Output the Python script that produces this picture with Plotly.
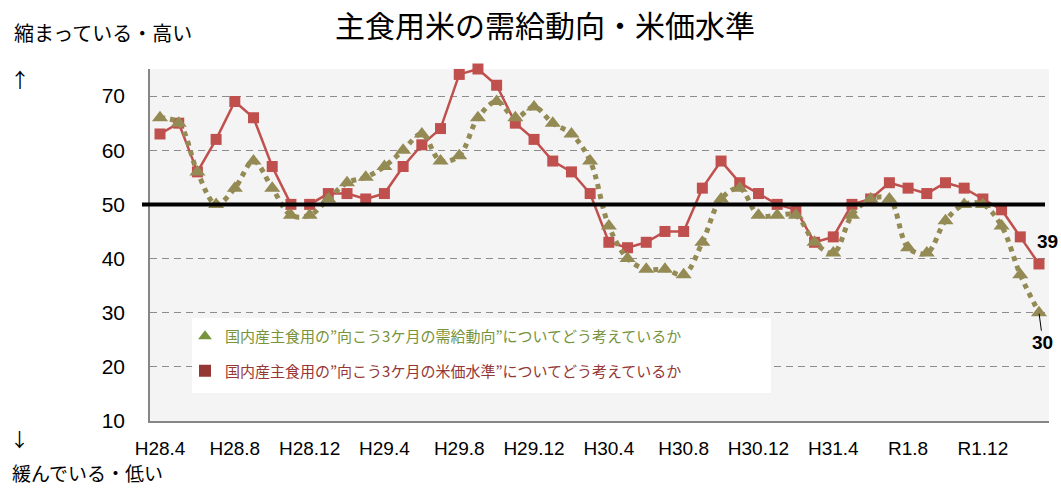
import plotly.graph_objects as go

months = [
    "H28.4", "H28.5", "H28.6", "H28.7", "H28.8", "H28.9", "H28.10", "H28.11", "H28.12",
    "H29.1", "H29.2", "H29.3", "H29.4", "H29.5", "H29.6", "H29.7", "H29.8", "H29.9",
    "H29.10", "H29.11", "H29.12", "H30.1", "H30.2", "H30.3", "H30.4", "H30.5", "H30.6",
    "H30.7", "H30.8", "H30.9", "H30.10", "H30.11", "H30.12", "H31.1", "H31.2", "H31.3",
    "H31.4", "R1.5", "R1.6", "R1.7", "R1.8", "R1.9", "R1.10", "R1.11", "R1.12",
    "R2.1", "R2.2", "R2.3",
]
tick_labels = ["H28.4", "H28.8", "H28.12", "H29.4", "H29.8", "H29.12",
               "H30.4", "H30.8", "H30.12", "H31.4", "R1.8", "R1.12"]

# 需給動向 (triangles)
supply_demand = [66, 65, 56, 50, 53, 58, 53, 48, 48, 51,
                 54, 55, 57, 60, 63, 58, 59, 66, 69, 66,
                 68, 65, 63, 58, 46, 40, 38, 38, 37, 43,
                 51, 53, 48, 48, 48, 43, 41, 48, 51, 51,
                 42, 41, 47, 50, 50, 46, 37, 30]
# 米価水準 (squares)
price_level = [63, 65, 56, 62, 69, 66, 57, 50, 50, 52,
               52, 51, 52, 57, 61, 64, 74, 75, 72, 65,
               62, 58, 56, 52, 43, 42, 43, 45, 45, 53,
               58, 54, 52, 50, 49, 43, 44, 50, 51, 54,
               53, 52, 54, 53, 51, 49, 44, 39]

name_sd = "国内産主食用の”向こう3ケ月の需給動向”についてどう考えているか"
name_pr = "国内産主食用の”向こう3ケ月の米価水準”についてどう考えているか"

title_text = "主食用米の需給動向・米価水準"
top_text = "縮まっている・高い"
bottom_text = "緩んでいる・低い"

JP = "Noto Sans CJK JP"
LAT = "Liberation Sans, Arial, Noto Sans CJK JP"

OLIVE = "#948A54"
RED = "#C0504D"

fig = go.Figure()

fig.add_trace(go.Scatter(
    x=months, y=price_level, mode="lines+markers",
    line=dict(color=RED, width=2.5),
    marker=dict(symbol="square", size=11, color=RED),
    showlegend=False, cliponaxis=False,
))
fig.add_trace(go.Scatter(
    x=months, y=supply_demand, mode="lines+markers",
    line=dict(color=OLIVE, width=5, dash="dot", shape="spline", smoothing=1),
    marker=dict(symbol="triangle-up", size=14, color=OLIVE),
    showlegend=False, cliponaxis=False,
))

# legend entries
fig.add_trace(go.Scatter(
    x=[None], y=[None], mode="markers",
    marker=dict(symbol="triangle-up", size=12, color="#77933C"),
    name=f"<span style='color:#77933C'>{name_sd}</span>",
    legendgroup="a",
))
fig.add_trace(go.Scatter(
    x=[None], y=[None], mode="markers",
    marker=dict(symbol="square", size=10, color="#953735"),
    name=f"<span style='color:#953735'>{name_pr}</span>",
    legendgroup="b",
))

L, R, T, B = 150, 12, 69, 68
W, H = 1061, 489
PW, PH = W - L - R, H - T - B


def px(xp):
    return (xp - L) / PW


def py(yp):
    return (H - B - yp) / PH


fig.update_layout(
    width=W, height=H,
    margin=dict(l=L, r=R, t=T, b=B),
    paper_bgcolor="white",
    plot_bgcolor="#F4F4F4",
    font=dict(family=LAT, color="#000000"),
    title=dict(text=title_text, x=545 / W, xanchor="center",
               y=1 - 26 / H, yanchor="middle",
               font=dict(family=JP, size=30, color="#000000")),
    legend=dict(x=px(185), xanchor="left", y=py(320), yanchor="top",
                bgcolor="rgba(0,0,0,0)", font=dict(family=JP, size=15),
                traceorder="grouped", tracegroupgap=12, itemsizing="constant"),
    xaxis=dict(
        type="category", range=[-0.535, len(months) - 1 + 0.535],
        tickmode="array", tickvals=tick_labels, ticktext=tick_labels,
        showgrid=False, ticks="", showline=True, linecolor="#868686", linewidth=1.5,
        tickfont=dict(family=LAT, size=19, color="#000000"),
        ticklabelstandoff=9,
    ),
    yaxis=dict(
        range=[10, 75], tickvals=[10, 20, 30, 40, 50, 60, 70],
        showgrid=True, gridcolor="#8C8C8C", gridwidth=1.3, griddash="7px,5px",
        showline=True, linecolor="#868686", linewidth=1.5, ticks="",
        tickfont=dict(family=LAT, size=21, color="#000000"),
        ticklabelstandoff=19, zeroline=False,
    ),
    shapes=[
        dict(type="line", xref="paper", yref="y", x0=px(142), x1=px(1045), y0=50, y1=50,
             line=dict(color="#000000", width=4), layer="above"),
        dict(type="rect", xref="paper", yref="paper", x0=px(192), x1=px(771),
             y0=py(393), y1=py(318), fillcolor="white", line=dict(width=0), layer="above"),
    ],
    annotations=[
        dict(text=top_text, xref="paper", yref="paper", x=px(12), y=py(33),
             xanchor="left", yanchor="middle", showarrow=False,
             font=dict(family=JP, size=20, color="#000000")),
        dict(text="↑", xref="paper", yref="paper", x=px(8), y=py(79),
             xanchor="left", yanchor="middle", showarrow=False,
             font=dict(family=JP, size=20, color="#000000")),
        dict(text="↓", xref="paper", yref="paper", x=px(8), y=py(438),
             xanchor="left", yanchor="middle", showarrow=False,
             font=dict(family=JP, size=19, color="#000000")),
        dict(text=bottom_text, xref="paper", yref="paper", x=px(10), y=py(472),
             xanchor="left", yanchor="middle", showarrow=False,
             font=dict(family=JP, size=19, color="#000000")),
        dict(text=f"<b>{price_level[-1]}</b>", x=months[-1], y=price_level[-1],
             xref="x", yref="y", showarrow=False, xshift=9, yshift=22,
             font=dict(family=LAT, size=19, color="#000000")),
        dict(text=f"<b>{supply_demand[-1]}</b>", x=months[-1], y=supply_demand[-1],
             xref="x", yref="y", showarrow=True, arrowhead=0, arrowwidth=1,
             arrowcolor="#000000", ax=4, ay=30, standoff=1,
             font=dict(family=LAT, size=19, color="#000000")),
    ],
)

fig.write_html("out.html", config={"displayModeBar": False},
               post_script="document.body.style.margin='0';")
